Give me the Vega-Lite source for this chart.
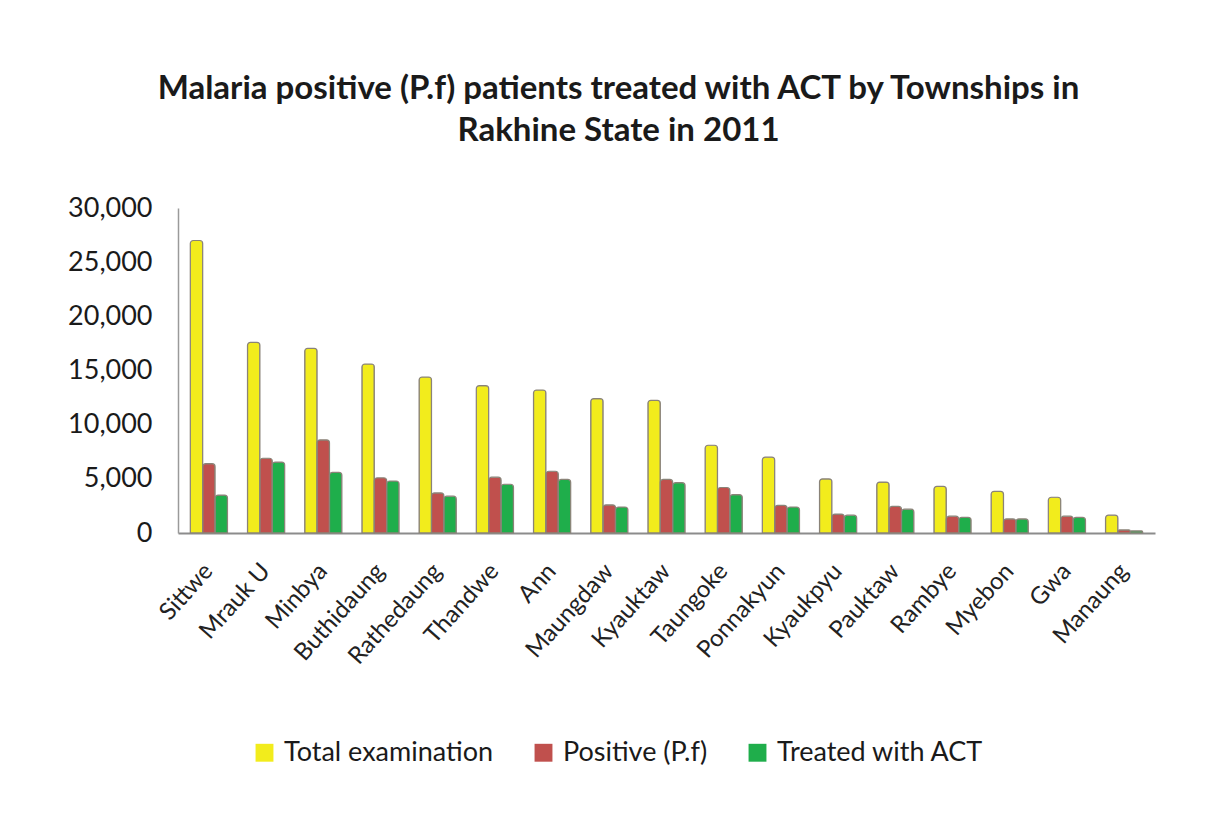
{
  "$schema": "https://vega.github.io/schema/vega-lite/v6.json",
  "autosize": {"type": "none"},
  "padding": {"left": 178, "top": 208, "right": 50, "bottom": 293},
  "width": 977,
  "height": 325,
  "background": "white",
  "title": {
    "text": ["Malaria positive (P.f) patients treated with ACT by Townships in", "Rakhine State in 2011"],
    "font": "Lato",
    "fontSize": 33,
    "fontWeight": "bold",
    "color": "#1a1a1a",
    "anchor": "middle",
    "dx": -48,
    "offset": 46,
    "lineHeight": 42
  },
  "data": {
    "values": [
      {"township": "Sittwe", "measure": "Total examination", "value": 27000},
      {"township": "Sittwe", "measure": "Positive (P.f)", "value": 6400},
      {"township": "Sittwe", "measure": "Treated with ACT", "value": 3500},
      {"township": "Mrauk U", "measure": "Total examination", "value": 17600},
      {"township": "Mrauk U", "measure": "Positive (P.f)", "value": 6900},
      {"township": "Mrauk U", "measure": "Treated with ACT", "value": 6550},
      {"township": "Minbya", "measure": "Total examination", "value": 17050},
      {"township": "Minbya", "measure": "Positive (P.f)", "value": 8600},
      {"township": "Minbya", "measure": "Treated with ACT", "value": 5600},
      {"township": "Buthidaung", "measure": "Total examination", "value": 15600},
      {"township": "Buthidaung", "measure": "Positive (P.f)", "value": 5100},
      {"township": "Buthidaung", "measure": "Treated with ACT", "value": 4800},
      {"township": "Rathedaung", "measure": "Total examination", "value": 14400},
      {"township": "Rathedaung", "measure": "Positive (P.f)", "value": 3700},
      {"township": "Rathedaung", "measure": "Treated with ACT", "value": 3400},
      {"township": "Thandwe", "measure": "Total examination", "value": 13600},
      {"township": "Thandwe", "measure": "Positive (P.f)", "value": 5150},
      {"township": "Thandwe", "measure": "Treated with ACT", "value": 4500},
      {"township": "Ann", "measure": "Total examination", "value": 13200},
      {"township": "Ann", "measure": "Positive (P.f)", "value": 5700},
      {"township": "Ann", "measure": "Treated with ACT", "value": 4950},
      {"township": "Maungdaw", "measure": "Total examination", "value": 12400},
      {"township": "Maungdaw", "measure": "Positive (P.f)", "value": 2600},
      {"township": "Maungdaw", "measure": "Treated with ACT", "value": 2400},
      {"township": "Kyauktaw", "measure": "Total examination", "value": 12250},
      {"township": "Kyauktaw", "measure": "Positive (P.f)", "value": 4950},
      {"township": "Kyauktaw", "measure": "Treated with ACT", "value": 4650},
      {"township": "Taungoke", "measure": "Total examination", "value": 8100},
      {"township": "Taungoke", "measure": "Positive (P.f)", "value": 4200},
      {"township": "Taungoke", "measure": "Treated with ACT", "value": 3550},
      {"township": "Ponnakyun", "measure": "Total examination", "value": 7000},
      {"township": "Ponnakyun", "measure": "Positive (P.f)", "value": 2550},
      {"township": "Ponnakyun", "measure": "Treated with ACT", "value": 2400},
      {"township": "Kyaukpyu", "measure": "Total examination", "value": 5000},
      {"township": "Kyaukpyu", "measure": "Positive (P.f)", "value": 1750},
      {"township": "Kyaukpyu", "measure": "Treated with ACT", "value": 1650},
      {"township": "Pauktaw", "measure": "Total examination", "value": 4700},
      {"township": "Pauktaw", "measure": "Positive (P.f)", "value": 2450},
      {"township": "Pauktaw", "measure": "Treated with ACT", "value": 2200},
      {"township": "Rambye", "measure": "Total examination", "value": 4300},
      {"township": "Rambye", "measure": "Positive (P.f)", "value": 1550},
      {"township": "Rambye", "measure": "Treated with ACT", "value": 1450},
      {"township": "Myebon", "measure": "Total examination", "value": 3850},
      {"township": "Myebon", "measure": "Positive (P.f)", "value": 1300},
      {"township": "Myebon", "measure": "Treated with ACT", "value": 1300},
      {"township": "Gwa", "measure": "Total examination", "value": 3300},
      {"township": "Gwa", "measure": "Positive (P.f)", "value": 1550},
      {"township": "Gwa", "measure": "Treated with ACT", "value": 1450},
      {"township": "Manaung", "measure": "Total examination", "value": 1650},
      {"township": "Manaung", "measure": "Positive (P.f)", "value": 280},
      {"township": "Manaung", "measure": "Treated with ACT", "value": 200}
    ]
  },
  "mark": {"type": "bar", "stroke": "#8a8378", "strokeWidth": 1.2, "cornerRadiusTopLeft": 3, "cornerRadiusTopRight": 3},
  "encoding": {
    "x": {
      "field": "township",
      "type": "nominal",
      "sort": null,
      "scale": {"paddingInner": 0.35, "paddingOuter": 0.215},
      "axis": {
        "title": null,
        "labelAngle": -48,
        "labelFont": "Lato",
        "labelFontSize": 24,
        "labelColor": "#222222",
        "labelPadding": 34,
        "ticks": false,
        "domainColor": "#8c8c8c",
        "domainWidth": 2
      }
    },
    "xOffset": {
      "field": "measure",
      "type": "nominal",
      "sort": ["Total examination", "Positive (P.f)", "Treated with ACT"],
      "scale": {"paddingInner": 0, "paddingOuter": 0}
    },
    "y": {
      "field": "value",
      "type": "quantitative",
      "scale": {"domain": [0, 30000]},
      "axis": {
        "title": null,
        "values": [0, 5000, 10000, 15000, 20000, 25000, 30000],
        "format": ",.0f",
        "grid": false,
        "ticks": false,
        "labelFont": "Lato",
        "labelFontSize": 27,
        "labelColor": "#1a1a1a",
        "labelPadding": 26,
        "domainColor": "#9a9a9a",
        "domainWidth": 1.5
      }
    },
    "color": {
      "field": "measure",
      "type": "nominal",
      "sort": ["Total examination", "Positive (P.f)", "Treated with ACT"],
      "scale": {
        "domain": ["Total examination", "Positive (P.f)", "Treated with ACT"],
        "range": ["#F2EC1C", "#C0504D", "#1FAE4B"]
      },
      "legend": {
        "title": null,
        "orient": "none",
        "legendX": 73,
        "legendY": 531,
        "direction": "horizontal",
        "symbolType": "square",
        "symbolSize": 320,
        "symbolStrokeWidth": 0,
        "labelFont": "Lato",
        "labelFontSize": 27,
        "labelColor": "#1a1a1a",
        "labelLimit": 400,
        "columnPadding": 36,
        "labelOffset": 6
      }
    }
  },
  "config": {"view": {"stroke": null}}
}
